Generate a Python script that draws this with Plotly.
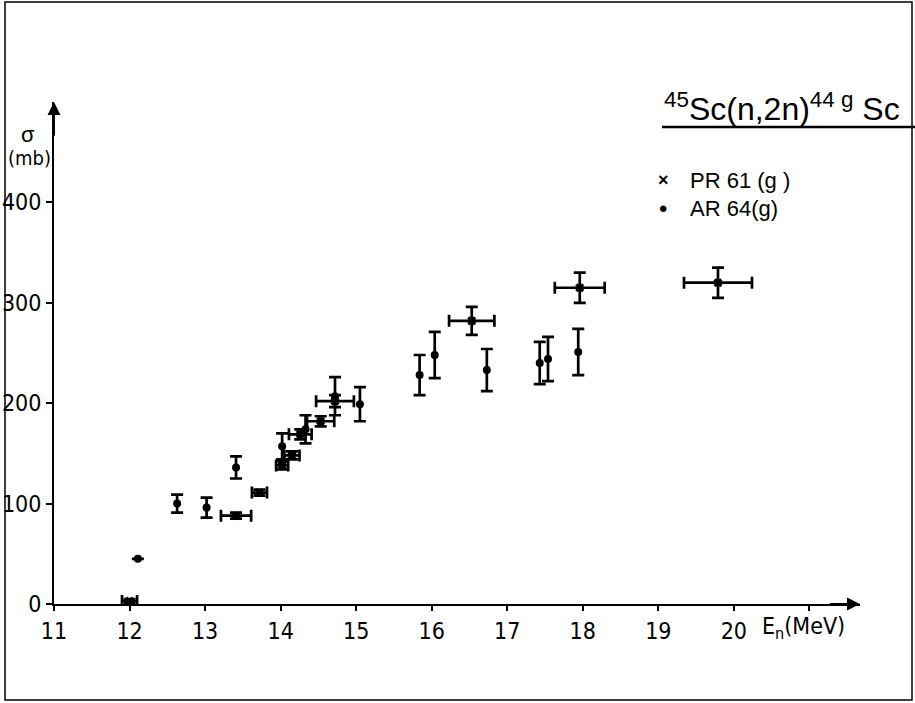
import plotly.graph_objects as go

# ---- data ----
pr61_e = [12.0, 13.41, 13.72, 14.02, 14.15, 14.26, 14.53, 14.72, 16.53, 17.96, 19.79]
pr61_sigma = [3, 88, 111, 138, 148, 169, 182, 202, 282, 315, 320]
pr61_de = [0.1, 0.2, 0.1, 0.08, 0.1, 0.15, 0.18, 0.25, 0.30, 0.33, 0.45]
pr61_dsigma = [2, 3, 3, 4, 4, 5, 5, 6, 14, 15, 15]

ar64_e = [12.11, 12.63, 13.02, 13.41, 14.02, 14.33, 14.72, 15.05, 15.84, 16.04, 16.73, 17.43, 17.54, 17.94]
ar64_sigma = [45, 100, 96, 136, 157, 174, 207, 199, 228, 248, 233, 240, 244, 251]
ar64_dsigma = [0, 9, 10, 11, 13, 14, 19, 17, 20, 23, 21, 21, 22, 23]

x_ticks = [11, 12, 13, 14, 15, 16, 17, 18, 19, 20, 21]
x_ticklabels = ["11", "12", "13", "14", "15", "16", "17", "18", "19", "20", ""]
y_ticks = [0, 100, 200, 300, 400]
y_ticklabels = ["0", "100", "200", "300", "400"]

NARROW = "Liberation Sans Narrow, DejaVu Sans Condensed, Arial Narrow, sans-serif"
WIDE = "Liberation Sans, Arial, sans-serif"

fig = go.Figure()

fig.add_trace(go.Scatter(
    x=pr61_e, y=pr61_sigma, mode="markers", name="PR 61 (g)",
    marker=dict(symbol="x", size=8, color="black"),
    error_x=dict(type="data", array=pr61_de, visible=True, color="black", thickness=2.7, width=6),
    error_y=dict(type="data", array=pr61_dsigma, visible=True, color="black", thickness=2.7, width=6),
    cliponaxis=False,
))
fig.add_trace(go.Scatter(
    x=ar64_e, y=ar64_sigma, mode="markers", name="AR 64(g)",
    marker=dict(symbol="circle", size=8, color="black"),
    error_y=dict(type="data", array=ar64_dsigma, visible=True, color="black", thickness=2.7, width=6),
    cliponaxis=False,
))

W, H = 915, 703
L, T = 54, 102
pw, ph = 806, 502
R, B = W - L - pw, H - T - ph

def px(x):
    return (x - L) / pw

def py(y):
    return (T + ph - y) / ph

axis_common = dict(showline=True, linecolor="black", linewidth=2, ticks="outside",
                   tickwidth=2, tickcolor="black", showgrid=False, zeroline=False,
                   automargin=False,
                   tickfont=dict(family=NARROW, size=23, color="black"))

fig.update_layout(
    template="none",
    width=W, height=H, margin=dict(l=L, r=R, t=T, b=B, pad=0, autoexpand=False),
    paper_bgcolor="white", plot_bgcolor="white", showlegend=False,
    xaxis=dict(range=[11, 21.67], tickvals=x_ticks, ticktext=x_ticklabels, ticklen=5, **axis_common),
    yaxis=dict(range=[0, 500], tickvals=y_ticks, ticktext=y_ticklabels, ticklen=6, **axis_common),
)

ann = []
# axis arrows
ann.append(dict(x=11, y=500, xref="x", yref="y", ax=11, ay=465, axref="x", ayref="y",
                showarrow=True, arrowhead=2, arrowsize=1.3, arrowwidth=2, arrowcolor="black", text=""))
ann.append(dict(x=21.67, y=0, xref="x", yref="y", ax=21.25, ay=0, axref="x", ayref="y",
                showarrow=True, arrowhead=2, arrowsize=1.3, arrowwidth=2, arrowcolor="black", text=""))
# title
ann.append(dict(x=px(662), y=py(107), xref="paper", yref="paper", xanchor="left", yanchor="middle",
                text="<sup>45</sup>Sc(n,2n)<sup>44 g</sup> Sc", showarrow=False,
                font=dict(family=WIDE, size=32, color="black")))
# legend
ann.append(dict(x=px(663), y=py(180), xref="paper", yref="paper", xanchor="center", yanchor="middle",
                text="<b>×</b>", showarrow=False, font=dict(family=WIDE, size=18, color="black")))
ann.append(dict(x=px(688), y=py(180), xref="paper", yref="paper", xanchor="left", yanchor="middle",
                text="PR 61 (g )", showarrow=False, font=dict(family=WIDE, size=22, color="black")))
ann.append(dict(x=px(663), y=py(208), xref="paper", yref="paper", xanchor="center", yanchor="middle",
                text="•", showarrow=False, font=dict(family=WIDE, size=24, color="black")))
ann.append(dict(x=px(688), y=py(208), xref="paper", yref="paper", xanchor="left", yanchor="middle",
                text="AR 64(g)", showarrow=False, font=dict(family=WIDE, size=22, color="black")))
# axis labels
ann.append(dict(x=px(28), y=py(134), xref="paper", yref="paper", xanchor="center", yanchor="middle",
                text="σ", showarrow=False, font=dict(family=WIDE, size=22, color="black")))
ann.append(dict(x=px(29), y=py(158), xref="paper", yref="paper", xanchor="center", yanchor="middle",
                text="(mb)", showarrow=False, font=dict(family=NARROW, size=20, color="black")))
ann.append(dict(x=px(760), y=py(628), xref="paper", yref="paper", xanchor="left", yanchor="middle",
                text="E<sub>n</sub>(MeV)", showarrow=False, font=dict(family=NARROW, size=23, color="black")))
fig.update_layout(annotations=ann)

shapes = [
    dict(type="line", xref="paper", yref="paper", x0=px(662), x1=px(915), y0=py(127), y1=py(127),
         line=dict(color="black", width=2.5)),
    dict(type="rect", xref="paper", yref="paper", x0=px(5), x1=px(912), y0=py(700), y1=py(2),
         line=dict(color="black", width=1.5)),
]
fig.update_layout(shapes=shapes)

fig.write_html("out.html", config={"displayModeBar": False},
               post_script="document.body.style.margin='0';document.body.style.overflow='hidden';")
